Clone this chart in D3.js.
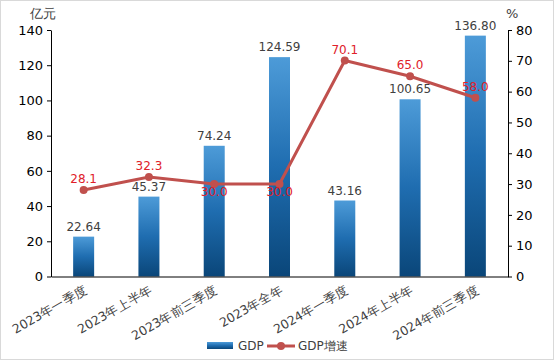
<!DOCTYPE html>
<html><head><meta charset="utf-8">
<script src="https://cdn.jsdelivr.net/npm/d3@7"></script>
<style>body{margin:0;background:#fff}svg{display:block}text{font-family:"DejaVu Sans",sans-serif}</style>
</head><body>
<svg id="c" width="554" height="360"></svg>
<script>
const categories=["2023年一季度","2023年上半年","2023年前三季度","2023年全年","2024年一季度","2024年上半年","2024年前三季度"];
const gdp=[22.64,45.37,74.24,124.59,43.16,100.65,136.80];
const growth=[28.1,32.3,30.0,30.0,70.1,65.0,58.0];
const leftTicks=[0,20,40,60,80,100,120,140];
const rightTicks=[0,10,20,30,40,50,60,70,80];

const svg=d3.select("#c");
svg.append("rect").attr("x",0.5).attr("y",0.5).attr("width",553).attr("height",359).attr("fill","#fff").attr("stroke","#d9d9d9");
const m={l:51,r:508,t:30,b:276.5};
const x=d3.scaleBand().domain(categories).range([m.l,m.r]);
const yL=d3.scaleLinear().domain([0,140]).range([m.b,m.t]);
const yR=d3.scaleLinear().domain([0,80]).range([m.b,m.t]);

const defs=svg.append("defs");
const g=defs.append("linearGradient").attr("id","bg").attr("x1",0).attr("y1",0).attr("x2",0).attr("y2",1);
g.append("stop").attr("offset","0%").attr("stop-color","#4d9bd8");
g.append("stop").attr("offset","50%").attr("stop-color","#1f6db0");
g.append("stop").attr("offset","100%").attr("stop-color","#0a4679");

const bw=21;
svg.selectAll(".bar").data(gdp).join("rect")
 .attr("x",(d,i)=>x(categories[i])+x.bandwidth()/2-bw/2)
 .attr("y",d=>yL(d)).attr("width",bw).attr("height",d=>yL(0)-yL(d)).attr("fill","url(#bg)");
svg.selectAll(".bl").data(gdp).join("text")
 .attr("x",(d,i)=>x(categories[i])+x.bandwidth()/2).attr("y",d=>yL(d)-6)
 .attr("text-anchor","middle").attr("font-size",12).attr("fill","#404040").text(d=>d.toFixed(2));

const axL=svg.append("g").attr("transform",`translate(${m.l},0)`).call(d3.axisLeft(yL).tickValues(leftTicks).tickSize(4).tickSizeOuter(0));
const axR=svg.append("g").attr("transform",`translate(${m.r},0)`).call(d3.axisRight(yR).tickValues(rightTicks).tickSize(4).tickSizeOuter(0));
[axL,axR].forEach(a=>{a.selectAll("path,line").attr("stroke","#000");a.selectAll("text").attr("font-size",13).attr("fill","#000").attr("font-family","DejaVu Sans");});
axL.selectAll("text").attr("x",-8);
axR.selectAll("text").attr("x",8);
const axB=svg.append("g").attr("transform",`translate(0,${m.b})`).call(d3.axisBottom(x).tickSize(0).tickSizeOuter(0));
axB.select("path").attr("stroke","#000");
axB.selectAll("text").attr("font-size",12.5).attr("fill","#404040").attr("font-family","DejaVu Sans")
 .attr("text-anchor","end").attr("dy",0).attr("transform","translate(3,13) rotate(-30)");

svg.append("text").attr("x",30).attr("y",18).attr("font-size",13).attr("fill","#404040").text("亿元");
svg.append("text").attr("x",506).attr("y",18).attr("font-size",13).attr("fill","#404040").text("%");

const cx=(i)=>x(categories[i])+x.bandwidth()/2;
const line=d3.line().x((d,i)=>cx(i)).y(d=>yR(d));
svg.append("path").datum(growth).attr("d",line).attr("fill","none").attr("stroke","#c0504d").attr("stroke-width",3);
svg.selectAll(".pt").data(growth).join("circle").attr("cx",(d,i)=>cx(i)).attr("cy",d=>yR(d)).attr("r",4).attr("fill","#c0504d");
svg.selectAll(".gl").data(growth).join("text")
 .attr("x",(d,i)=>cx(i)).attr("y",(d,i)=>yR(d)+((i==2||i==3)?12:-7))
 .attr("text-anchor","middle").attr("font-size",12).attr("fill","#e0202a").text(d=>d.toFixed(1));

const lg=svg.append("g");
lg.append("rect").attr("x",207).attr("y",342).attr("width",26).attr("height",7).attr("fill","url(#bg)");
lg.append("text").attr("x",238).attr("y",350).attr("font-size",12).attr("fill","#404040").text("GDP");
lg.append("line").attr("x1",267).attr("x2",295).attr("y1",346).attr("y2",346).attr("stroke","#c0504d").attr("stroke-width",3);
lg.append("circle").attr("cx",281).attr("cy",346).attr("r",4).attr("fill","#c0504d");
lg.append("text").attr("x",298).attr("y",350).attr("font-size",12).attr("fill","#404040").text("GDP增速");
</script>
</body></html>
